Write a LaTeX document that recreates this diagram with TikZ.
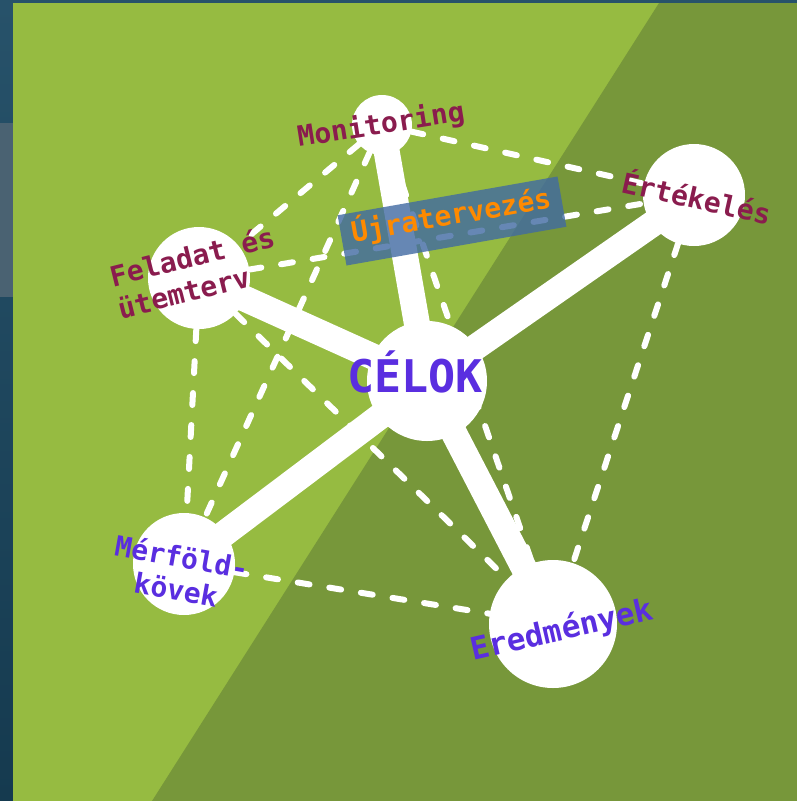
\documentclass[tikz,border=0pt]{standalone}
\usepackage{fontspec}
\usepackage{tikz}
\newfontfamily\monofont{DejaVu Sans Mono}
\definecolor{lgreen}{HTML}{96BB41}
\definecolor{dgreen}{HTML}{77973A}
\definecolor{wine}{HTML}{8A1C4E}
\definecolor{purp}{HTML}{5A2EE0}
\definecolor{navytop}{HTML}{27526A}
\definecolor{navybot}{HTML}{153A4F}
\definecolor{slate}{HTML}{4A6272}
\definecolor{boxblue}{HTML}{406AA2}
\definecolor{orng}{HTML}{FF8A00}
\pgfdeclarelayer{back}
\pgfdeclarelayer{wires}
\pgfsetlayers{back,wires,main}

\begin{document}
\begin{tikzpicture}[x=1pt,y=-1pt,
                    spot/.style={circle,fill=white,inner sep=0pt},
                    spoke/.style={white,line width=26pt},
                    link/.style={white,line width=6pt,line cap=round,
                                 dash pattern=on 12pt off 20pt},
                    lbl/.style={inner sep=0pt,text=wine,
                                font=\monofont\bfseries\fontsize{28}{33}\selectfont}]

  \useasboundingbox (0,0) rectangle (797,801);
  \begin{pgfonlayer}{back}
    \shade[top color=navytop,bottom color=navybot] (0,0) rectangle (797,801);
    \fill[slate] (0,123) rectangle (13,297);
    \fill[lgreen] (13,3) rectangle (797,801);
    \fill[dgreen] (659,3) -- (797,3) -- (797,801) -- (152,801) -- cycle;
  \end{pgfonlayer}

  \node[spot, minimum size=60pt] (mon) at (382,125) {};
  \node[spot, minimum size=102pt] (ert) at (694,195) {};
  \node[spot, minimum size=102pt] (fel) at (199,278) {};
  \node[spot, minimum size=120pt] (cel) at (427,381) {};
  \node[spot, minimum size=102pt] (mer) at (184,564) {};
  \node[spot, minimum size=128pt] (ered) at (553,624) {};

  \begin{pgfonlayer}{wires}
    \path (mon) edge[link] (fel)
          (mon) edge[link] (ert)
          (mon) edge[link] (mer)
          (mon) edge[link] (ered)
          (fel) edge[link] (ert)
          (fel) edge[link] (mer)
          (fel) edge[link] (ered)
          (ert) edge[link] (ered)
          (mer) edge[link] (ered);
    \path (cel.center) edge[spoke] (mon.center)
          (cel.center) edge[spoke] (ert.center)
          (cel.center) edge[spoke] (fel.center)
          (cel.center) edge[spoke] (mer.center)
          (cel.center) edge[spoke] (ered.center);
  \end{pgfonlayer}

  \node[lbl, anchor=base west, rotate=9] (monlbl) at (299,147) {Monitoring};
  \node[lbl, anchor=base west, rotate=-12.6] (ertlbl) at (620,192) {Értékelés};
  \node[lbl, align=left, rotate=14] (fellbl) at (196,272) {Feladat és\\ütemterv};
  \node[lbl, text=purp, anchor=base, font=\monofont\bfseries\fontsize{45}{50}\selectfont]
    (cellbl) at (415,392) {CÉLOK};
  \node[lbl, text=purp, align=center, rotate=-10] (merlbl) at (179,573) {Mérföld-\\kövek};
  \node[lbl, text=purp, anchor=base west, rotate=13, font=\monofont\bfseries\fontsize{31}{33}\selectfont]
    (eredlbl) at (473,661) {Eredmények};

  \node[lbl, text=orng, fill=boxblue, fill opacity=0.8, text opacity=1, rotate=10,
        text height=26pt, text depth=18pt, inner xsep=10.5pt, inner ysep=3.5pt]
    (ujra) at (452,221) {Újratervezés};
\end{tikzpicture}
\end{document}
